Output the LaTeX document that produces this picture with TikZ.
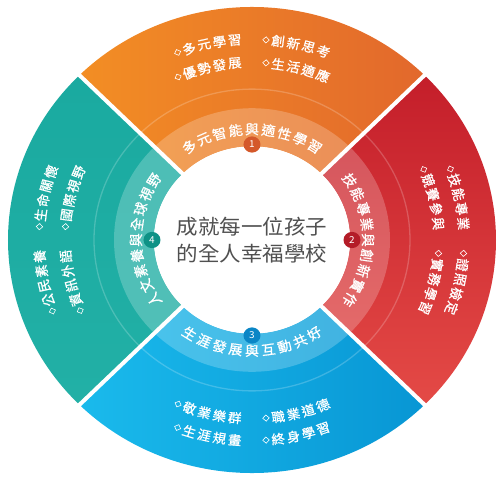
\documentclass[tikz,border=0pt]{standalone}
\usepackage{fontspec}
\newfontfamily\cjk{Noto Sans CJK TC}
\newfontfamily\cjkb[FakeBold=0.9]{Noto Sans CJK TC}
\definecolor{orangeL}{RGB}{243,142,36}
\definecolor{orangeR}{RGB}{226,104,44}
\definecolor{redD}{RGB}{196,30,42}
\definecolor{redL}{RGB}{228,74,70}
\definecolor{blueL}{RGB}{26,186,236}
\definecolor{blueR}{RGB}{8,150,212}
\definecolor{tealA}{RGB}{26,170,160}
\definecolor{tealB}{RGB}{34,176,166}
\definecolor{badgeA}{RGB}{212,88,42}
\definecolor{badgeB}{RGB}{180,28,40}
\definecolor{badgeC}{RGB}{10,134,198}
\definecolor{badgeD}{RGB}{14,146,134}
\definecolor{centertxt}{RGB}{80,80,80}
\tikzset{
  chartxt/.style={text=white, inner sep=0pt, font=\cjkb\fontsize{13.5}{13.5}\selectfont},
  titletxt/.style={text=white, inner sep=0pt, font=\cjkb\fontsize{14}{14}\selectfont},
  bullet/.style={draw=white, line width=0.6pt, minimum size=4.6pt, inner sep=0pt, shape=rectangle},
  badge/.style={circle, minimum size=17pt, inner sep=0pt, text=white, font=\cjk\fontsize{10}{10}\selectfont},
  gapline/.style={white, line width=4pt},
}
% #1 radius, #2 centre angle, #3 direction (1 = clockwise, tops outward; -1 = anticlockwise, tops inward), #4 pitch, #5 count, #6 style, #7 list
\newcommand\arctext[7]{%
  \foreach \ch [count=\k from 0] in {#7}{%
    \pgfmathsetmacro\ang{#2 - (#3)*(\k-(#5-1)/2)*#4/#1*57.2958}%
    \pgfmathsetmacro\rot{\ang - (#3)*90}%
    \node[#6, rotate=\rot] at (\ang:#1) {\ch};
  }%
}
% one bulleted item: #1 radius, #2 centre angle, #3 direction, #4 list of 4 chars
\newcommand\bulletitem[4]{%
  \pgfmathsetmacro\bang{#2 - (#3)*(-31)/#1*57.2958}%
  \pgfmathsetmacro\brot{\bang - (#3)*90 + 45}%
  \node[bullet, rotate=\brot] at (\bang:#1) {};
  \foreach \ch [count=\k from 0] in {#4}{%
    \pgfmathsetmacro\ang{#2 - (#3)*(-18.75+15.5*\k)/#1*57.2958}%
    \pgfmathsetmacro\rot{\ang - (#3)*90}%
    \node[chartxt, rotate=\rot] at (\ang:#1) {\ch};
  }%
}
% pair of items on one arc: #1 axis, #2 direction, #3 radius, #4 first list, #5 second list
\newcommand\itempair[5]{%
  \pgfmathsetmacro\offa{#1 + (#2)*45/#3*57.2958}%
  \pgfmathsetmacro\offb{#1 - (#2)*45/#3*57.2958}%
  \bulletitem{#3}{\offa}{#2}{#4}%
  \bulletitem{#3}{\offb}{#2}{#5}%
}
\begin{document}
\begin{tikzpicture}[x=1pt,y=1pt]
\useasboundingbox (-252,-240) rectangle (249,240);
\begin{scope}[yscale=0.955, transform shape]
  % segments
  \path[left color=orangeL, right color=orangeR]
    (45:98) arc[start angle=45, end angle=135, radius=98] -- (135:244)
    arc[start angle=135, end angle=45, radius=244] -- cycle;
  \path[top color=redD, bottom color=redL]
    (-45:98) arc[start angle=-45, end angle=45, radius=98] -- (45:244)
    arc[start angle=45, end angle=-45, radius=244] -- cycle;
  \path[left color=blueL, right color=blueR]
    (225:98) arc[start angle=225, end angle=315, radius=98] -- (315:244)
    arc[start angle=315, end angle=225, radius=244] -- cycle;
  \path[top color=tealA, bottom color=tealB]
    (135:98) arc[start angle=135, end angle=225, radius=98] -- (225:244)
    arc[start angle=225, end angle=135, radius=244] -- cycle;
  % lighter inner band and faint ring
  \fill[white, opacity=0.22] (0,0) circle[radius=138];
  \draw[white, opacity=0.2, line width=1.3pt] (0,0) circle[radius=158];
  % gaps
  \foreach \a in {45,135,225,315} \draw[gapline] (0,0) -- (\a:252);
  % centre disc
  \fill[white] (0,0) circle[radius=98];
  % badges
  \node[badge, fill=badgeA] (b1) at (90:100) {1};
  \node[badge, fill=badgeB] (b2) at (0:100) {2};
  \node[badge, fill=badgeC] (b3) at (270:100) {3};
  \node[badge, fill=badgeD] (b4) at (180:100) {4};
  % titles
  \arctext{116}{90}{1}{16.5}{9}{titletxt}{多,元,智,能,與,適,性,學,習}
  \arctext{116}{0}{1}{16.5}{9}{titletxt}{技,能,專,業,與,創,新,實,作}
  \arctext{116}{270}{-1}{16.5}{9}{titletxt}{生,涯,發,展,與,互,動,共,好}
  \arctext{116}{180}{1}{16.5}{9}{titletxt}{人,文,素,養,與,全,球,視,野}
  % items
  \itempair{90}{1}{210}{多,元,學,習}{創,新,思,考}
  \itempair{90}{1}{186}{優,勢,發,展}{生,活,適,應}
  \itempair{0}{1}{212}{技,能,專,業}{證,照,檢,定}
  \itempair{0}{1}{187}{競,賽,參,與}{實,務,學,習}
  \itempair{270}{-1}{187}{敬,業,樂,群}{職,業,道,德}
  \itempair{270}{-1}{210}{生,涯,規,畫}{終,身,學,習}
  \itempair{180}{1}{213}{公,民,素,養}{生,命,關,懷}
  \itempair{180}{1}{187}{資,訊,外,語}{國,際,視,野}
  % centre text
  \node[align=center, text=centertxt, font=\cjk\fontsize{21.5}{28}\selectfont] (ctr) at (0,0) {成就每一位孩子\\的全人幸福學校};
\end{scope}
\end{tikzpicture}
\end{document}
